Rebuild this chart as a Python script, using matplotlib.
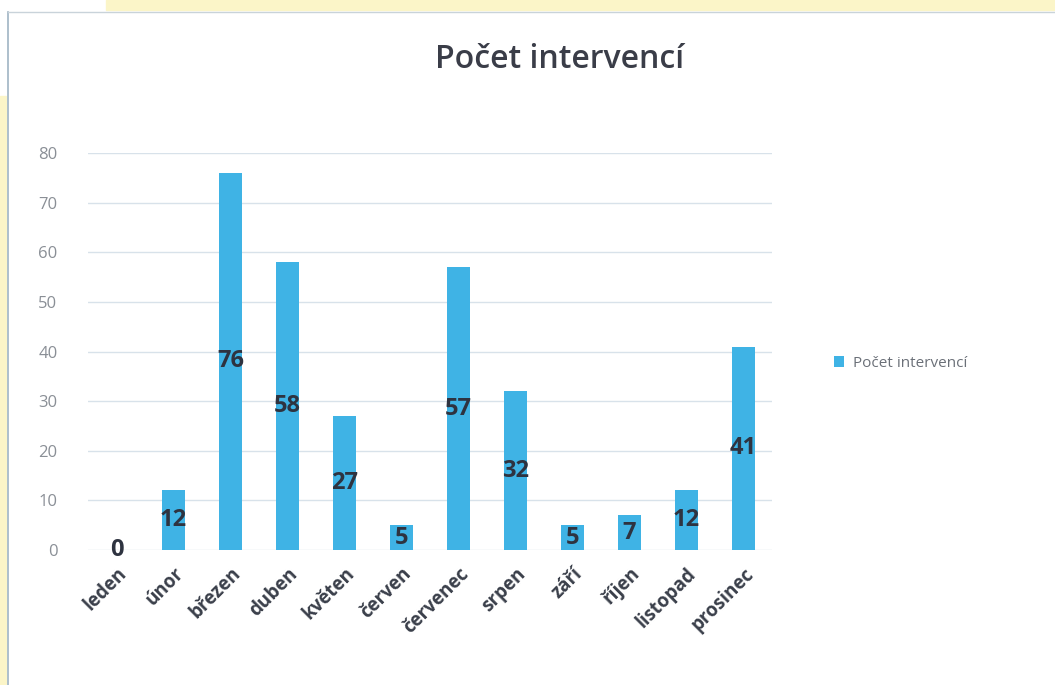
import matplotlib.pyplot as plt
from matplotlib.patches import Rectangle

plt.rcParams['font.family'] = ['Open Sans', 'DejaVu Sans']

mesice = ['leden', 'únor', 'březen', 'duben', 'květen', 'červen',
          'červenec', 'srpen', 'září', 'říjen', 'listopad', 'prosinec']
pocty = [0, 12, 76, 58, 27, 5, 57, 32, 5, 7, 12, 41]
y_ticks = [0, 10, 20, 30, 40, 50, 60, 70, 80]

fig = plt.figure(figsize=(10.55, 6.85), dpi=100)
fig.patch.set_facecolor('white')

# okraje naskenovaneho slajdu
fig.patches.append(Rectangle((0.10, 0.985), 0.9, 0.015, transform=fig.transFigure,
                             color='#fbf5c8', zorder=0))
fig.patches.append(Rectangle((0, 0), 0.006, 0.86, transform=fig.transFigure,
                             color='#fbf5c8', zorder=0))
fig.add_artist(plt.Line2D([0.008, 0.008], [0, 0.982], transform=fig.transFigure,
                          color='#9fb4c4', lw=1.2))
fig.add_artist(plt.Line2D([0.008, 1], [0.982, 0.982], transform=fig.transFigure,
                          color='#c9d3da', lw=1.0))

ax = fig.add_axes([88 / 1055, 1 - 550 / 685, (772 - 88) / 1055, (550 - 153) / 685])

bars = ax.bar(range(len(mesice)), pocty, width=0.39, color='#3fb3e5', zorder=2,
              label='Počet intervencí')
ax.bar_label(bars, labels=[str(v) for v in pocty], label_type='center',
             fontsize=17, fontweight='bold', color='#2e3340', zorder=3)

ax.set_ylim(0, 80)
ax.set_xlim(-0.5, len(mesice) - 0.5)
ax.set_yticks(y_ticks)
ax.set_yticklabels([str(t) for t in y_ticks], color='#8a8f96', fontsize=12)
ax.set_xticks(range(len(mesice)))
ax.set_xticklabels(mesice, rotation=45, ha='right', rotation_mode='anchor',
                   fontsize=13.5, fontweight='bold', color='#3a3f4a')
ax.tick_params(axis='y', length=0, pad=22)
ax.tick_params(axis='x', length=0, pad=10)
ax.grid(axis='y', color='#d8e2ea', lw=1.0, zorder=0)
for s in ax.spines.values():
    s.set_visible(False)

fig.text(560 / 1055, 1 - 60 / 685, 'Počet intervencí', ha='center', va='center',
         fontsize=23, fontweight='semibold', color='#3a3d48')

ax.legend(loc='center left', bbox_to_anchor=(1.07, 0.47), frameon=False,
          fontsize=11, labelcolor='#6b7078', handlelength=0.7, handleheight=0.7,
          handletextpad=0.6)

fig.savefig('out.png', dpi=100)
